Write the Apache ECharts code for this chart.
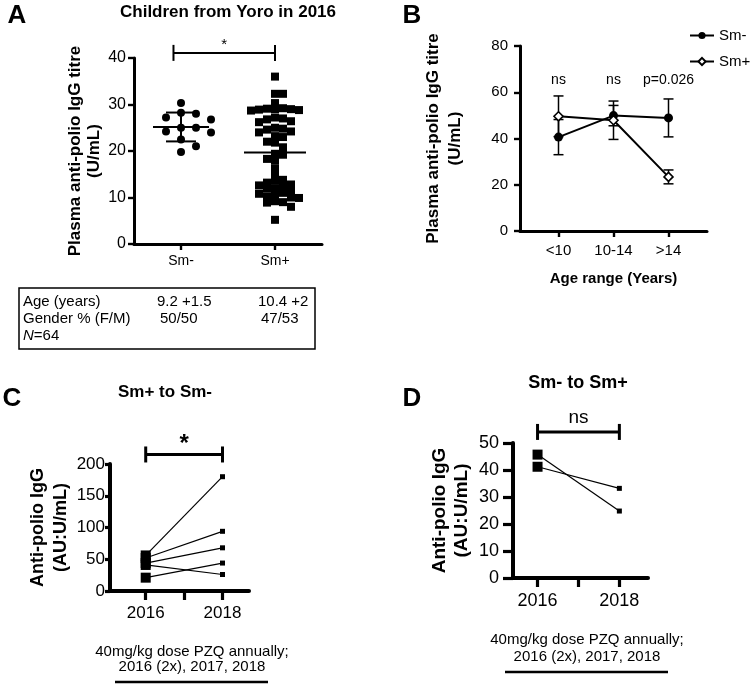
<!DOCTYPE html>
<html><head><meta charset="utf-8">
<script src="https://cdn.jsdelivr.net/npm/echarts@6/dist/echarts.min.js"></script>
<style>html,body{margin:0;padding:0;background:#fff}#c{width:750px;height:684px}</style>
</head><body><div id="c"></div>
<script>
// ===================== DATA =====================
// Panel A – Children from Yoro in 2016
const aCategories = ['Sm-', 'Sm+'];
const aSmNeg = [30.3, 28.2, 27.2, 26.8, 28.0, 25.0, 24.0, 25.0, 24.2, 22.5, 21.0, 19.8];
const aSmPos = [36, 32.3, 32.3, 30.3, 29.2, 29, 29, 28.8, 29.1, 28.9, 28.7, 27.2, 27, 26.8, 26.4, 26.2,
  25, 24.8, 24.6, 24.2, 24, 23.2, 23, 22, 21.8, 20.8, 19.4, 19.2, 18.3, 18, 16.3, 14.9, 13.8, 13.6,
  13.2, 12.8, 12.6, 12.5, 12, 11.9, 11.4, 11, 10.8, 10.7, 10.2, 10, 9.9, 9.2, 9, 8.9, 8, 5.2];
const aYTicks = [0, 10, 20, 30, 40];
const aSig = '*';
const tableRows = [
  ['Age (years)', '9.2 +1.5', '10.4 +2'],
  ['Gender % (F/M)', '50/50', '47/53']
];
const tableN = 64;

// Panel B – titre by age range
const bCategories = ['<10', '10-14', '>14'];
const bSeriesNames = ['Sm-', 'Sm+'];
const bSmNegMean = [40.6, 49.9, 48.9];
const bSmNegErr = [7.6, 4.4, 8.2];
const bSmPosMean = [49.6, 47.9, 23.4];
const bSmPosErr = [8.8, 8.3, 3.0];
const bSig = ['ns', 'ns', 'p=0.026'];
const bYTicks = [0, 20, 40, 60, 80];

// Panel C – Sm+ to Sm-
const cYears = [2016, 2017, 2018];
const cLabelYears = [2016, 2018];
const c2016 = [56, 52, 44, 41, 21];
const c2018 = [180, 94, 68, 26, 44];
const cSig = '*';
const cYTicks = [0, 50, 100, 150, 200];

// Panel D – Sm- to Sm+
const d2016 = [45.7, 41.2];
const d2018 = [24.8, 33.2];
const dSig = 'ns';
const dYTicks = [0, 10, 20, 30, 40, 50];

const noteLines = ['40mg/kg dose PZQ annually;', '2016 (2x), 2017, 2018'];

// ===================== HELPERS =====================
const FONT = '"Liberation Sans", Arial, Helvetica, sans-serif';
const fnt = (size, bold, italic) => (italic ? 'italic ' : '') + (bold ? 'bold ' : '') + size + 'px ' + FONT;
const mean = a => a.reduce((s, v) => s + v, 0) / a.length;
const sd = a => { const m = mean(a); return Math.sqrt(a.reduce((s, v) => s + (v - m) * (v - m), 0) / (a.length - 1)); };

// grid geometry
const gA = { left: 134, top: 58, width: 188, height: 186 };
const gB = { left: 520, top: 46, width: 187, height: 185 };
const gC = { left: 110, top: 464, width: 139, height: 127 };
const gD = { left: 513, top: 443, width: 135, height: 135 };
const aX = [0.5, 2.5];
const aPxX = gA.width / (aX[1] - aX[0]);
const aPxY = gA.height / (aYTicks[aYTicks.length - 1] - aYTicks[0]);

// simple beeswarm layout (pixel space) -> data coordinates
function swarm(values, center, step, minDx, minDy) {
  const order = values.map((v, i) => i).sort((a, b) => values[b] - values[a]);
  const placed = [], out = [];
  order.forEach(i => {
    const y = values[i] * aPxY;
    let off = 0;
    for (let k = 0; k < 60; k++) {
      const c = k === 0 ? 0 : (k % 2 === 1 ? 1 : -1) * Math.ceil(k / 2) * step;
      const hit = placed.some(p => Math.abs(p.x - c) < minDx && Math.abs(p.y - y) < minDy);
      if (!hit) { off = c; break; }
    }
    placed.push({ x: off, y });
    out[i] = [center + off / aPxX, values[i]];
  });
  return out;
}

function yAxisCfg(gi, ticks, o) {
  return {
    type: 'value', gridIndex: gi, min: ticks[0], max: ticks[ticks.length - 1],
    interval: ticks[1] - ticks[0],
    name: o.name, nameLocation: 'middle', nameGap: o.nameGap,
    nameTextStyle: { fontFamily: FONT, fontWeight: 'bold', fontSize: o.nameSize, lineHeight: o.nameLH, color: '#000' },
    axisLine: { show: true, lineStyle: { color: '#000', width: o.lw } },
    axisTick: { show: true, length: o.tickLen, lineStyle: { color: '#000', width: o.lw * 0.8 } },
    axisLabel: { fontFamily: FONT, fontSize: o.fs, color: '#000', margin: o.margin },
    splitLine: { show: false }
  };
}
function xAxisCfg(gi, range, tickVals, labelVals, fmt, o) {
  return {
    type: 'value', gridIndex: gi, min: range[0], max: range[1],
    name: o.name || '', nameLocation: 'middle', nameGap: o.nameGap || 0,
    nameTextStyle: { fontFamily: FONT, fontWeight: 'bold', fontSize: o.nameSize || 15, color: '#000' },
    axisLine: { show: true, onZero: false, lineStyle: { color: '#000', width: o.lw } },
    axisTick: { show: true, customValues: tickVals, length: o.tickLen, lineStyle: { color: '#000', width: o.lw * 0.8 } },
    axisLabel: { customValues: labelVals, formatter: fmt, fontFamily: FONT, fontSize: o.fs, color: '#000', margin: o.margin },
    splitLine: { show: false }
  };
}

function bracket(capHalf, lw, label, font, dy) {
  return function (params, api) {
    const y = api.value(2);
    const p1 = api.coord([api.value(0), y]);
    const p2 = api.coord([api.value(1), y]);
    const st = { stroke: '#000', lineWidth: lw };
    return {
      type: 'group', children: [
        { type: 'line', shape: { x1: p1[0], y1: p1[1], x2: p2[0], y2: p2[1] }, style: st },
        { type: 'line', shape: { x1: p1[0], y1: p1[1] - capHalf, x2: p1[0], y2: p1[1] + capHalf }, style: st },
        { type: 'line', shape: { x1: p2[0], y1: p2[1] - capHalf, x2: p2[0], y2: p2[1] + capHalf }, style: st },
        { type: 'text', style: { text: label, x: (p1[0] + p2[0]) / 2, y: p1[1] - dy, align: 'center', verticalAlign: 'bottom', font: font, fill: '#000' } }
      ]
    };
  };
}

const solid = { color: '#000', opacity: 1 };

// ===================== SERIES DATA =====================
const aNegPts = swarm(aSmNeg, 1, 7.5, 13, 8);
const aPosPts = swarm(aSmPos, 2, 8, 7.2, 5.6);
const aStats = [[1, mean(aSmNeg), sd(aSmNeg), 1], [2, mean(aSmPos), sd(aSmPos), 0]];

const series = [];
// ---- Panel A ----
series.push({
  type: 'custom', name: 'A stats', xAxisIndex: 0, yAxisIndex: 0, clip: false, z: 1,
  data: aStats,
  renderItem: function (params, api) {
    const c = api.value(0), m = api.value(1), s = api.value(2), showSd = api.value(3);
    const pm = api.coord([c, m]);
    const half = showSd ? 28 : 31;
    const ch = [{ type: 'line', shape: { x1: pm[0] - half, y1: pm[1], x2: pm[0] + half, y2: pm[1] }, style: { stroke: '#000', lineWidth: 2 } }];
    if (showSd) {
      const pt = api.coord([c, m + s]), pb = api.coord([c, m - s]);
      ch.push({ type: 'line', shape: { x1: pt[0], y1: pt[1], x2: pb[0], y2: pb[1] }, style: { stroke: '#000', lineWidth: 2 } });
      ch.push({ type: 'line', shape: { x1: pt[0] - 15, y1: pt[1], x2: pt[0] + 15, y2: pt[1] }, style: { stroke: '#000', lineWidth: 2 } });
      ch.push({ type: 'line', shape: { x1: pb[0] - 15, y1: pb[1], x2: pb[0] + 15, y2: pb[1] }, style: { stroke: '#000', lineWidth: 2 } });
    }
    return { type: 'group', children: ch };
  }
});
series.push({ type: 'scatter', name: 'A Sm-', xAxisIndex: 0, yAxisIndex: 0, data: aNegPts, symbol: 'circle', symbolSize: 8, itemStyle: solid, z: 3 });
series.push({ type: 'scatter', name: 'A Sm+', xAxisIndex: 0, yAxisIndex: 0, data: aPosPts, symbol: 'rect', symbolSize: 8, itemStyle: solid, z: 3 });
series.push({
  type: 'custom', name: 'A bracket', xAxisIndex: 0, yAxisIndex: 0, clip: false,
  data: [[0.92, 2, 41.1]], renderItem: bracket(8, 2, aSig, fnt(15, false), 1)
});

// ---- Panel B ----
function errBars(means, errs) { return means.map((m, i) => [i + 1, m, errs[i]]); }
const errRender = function (params, api) {
  const x = api.value(0), m = api.value(1), e = api.value(2);
  const pt = api.coord([x, m + e]), pb = api.coord([x, m - e]);
  const st = { stroke: '#000', lineWidth: 1.5 };
  return {
    type: 'group', children: [
      { type: 'line', shape: { x1: pt[0], y1: pt[1], x2: pb[0], y2: pb[1] }, style: st },
      { type: 'line', shape: { x1: pt[0] - 5, y1: pt[1], x2: pt[0] + 5, y2: pt[1] }, style: st },
      { type: 'line', shape: { x1: pb[0] - 5, y1: pb[1], x2: pb[0] + 5, y2: pb[1] }, style: st }
    ]
  };
};
series.push({ type: 'custom', name: 'B err -', xAxisIndex: 1, yAxisIndex: 1, z: 1, data: errBars(bSmNegMean, bSmNegErr), renderItem: errRender });
series.push({ type: 'custom', name: 'B err +', xAxisIndex: 1, yAxisIndex: 1, z: 1, data: errBars(bSmPosMean, bSmPosErr), renderItem: errRender });
series.push({
  type: 'line', name: bSeriesNames[0], xAxisIndex: 1, yAxisIndex: 1, z: 3,
  data: bSmNegMean.map((v, i) => [i + 1, v]), symbol: 'circle', symbolSize: 9,
  itemStyle: solid, lineStyle: { color: '#000', width: 2 }
});
series.push({
  type: 'line', name: bSeriesNames[1], xAxisIndex: 1, yAxisIndex: 1, z: 4,
  data: bSmPosMean.map((v, i) => [i + 1, v]), symbol: 'diamond', symbolSize: 9,
  itemStyle: { color: '#fff', borderColor: '#000', borderWidth: 1.6, opacity: 1 }, lineStyle: { color: '#000', width: 2 }
});
series.push({
  type: 'custom', name: 'B sig', xAxisIndex: 1, yAxisIndex: 1, clip: false,
  data: bSig.map((s, i) => [i + 1, 65.2]),
  renderItem: function (params, api) {
    const p = api.coord([api.value(0), api.value(1)]);
    return { type: 'text', style: { text: bSig[params.dataIndex], x: p[0], y: p[1], align: 'center', verticalAlign: 'middle', font: fnt(14, false), fill: '#000' } };
  }
});

// ---- Panel C ----
c2016.forEach((v, i) => series.push({
  type: 'line', name: 'C pair ' + i, xAxisIndex: 2, yAxisIndex: 2, symbol: 'none', z: 2,
  data: [[cLabelYears[0], v], [cLabelYears[1], c2018[i]]], lineStyle: { color: '#000', width: 1.2 }
}));
series.push({ type: 'scatter', name: 'C 2016', xAxisIndex: 2, yAxisIndex: 2, symbol: 'rect', symbolSize: 10, z: 3, itemStyle: solid, data: c2016.map(v => [cLabelYears[0], v]) });
series.push({ type: 'scatter', name: 'C 2018', xAxisIndex: 2, yAxisIndex: 2, symbol: 'rect', symbolSize: 5, z: 3, itemStyle: solid, data: c2018.map(v => [cLabelYears[1], v]) });
series.push({ type: 'custom', name: 'C bracket', xAxisIndex: 2, yAxisIndex: 2, clip: false, data: [[cLabelYears[0], cLabelYears[1], 215]], renderItem: bracket(8, 3, cSig, fnt(24, true), -2) });

// ---- Panel D ----
d2016.forEach((v, i) => series.push({
  type: 'line', name: 'D pair ' + i, xAxisIndex: 3, yAxisIndex: 3, symbol: 'none', z: 2,
  data: [[cLabelYears[0], v], [cLabelYears[1], d2018[i]]], lineStyle: { color: '#000', width: 1.2 }
}));
series.push({ type: 'scatter', name: 'D 2016', xAxisIndex: 3, yAxisIndex: 3, symbol: 'rect', symbolSize: 10, z: 3, itemStyle: solid, data: d2016.map(v => [cLabelYears[0], v]) });
series.push({ type: 'scatter', name: 'D 2018', xAxisIndex: 3, yAxisIndex: 3, symbol: 'rect', symbolSize: 5, z: 3, itemStyle: solid, data: d2018.map(v => [cLabelYears[1], v]) });
series.push({ type: 'custom', name: 'D bracket', xAxisIndex: 3, yAxisIndex: 3, clip: false, data: [[cLabelYears[0], cLabelYears[1], 54.1]], renderItem: bracket(8, 3, dSig, fnt(19, false), 5) });

// ===================== GRAPHIC (labels, table, notes) =====================
const T = (text, x, y, size, bold, align, extra) => Object.assign({
  type: 'text', x: x, y: y, silent: true,
  style: Object.assign({ text: text, font: fnt(size, bold), fill: '#000', align: align || 'center', verticalAlign: 'middle' }, extra || {})
});
const graphics = [
  T('A', 17, 16, 26, true), T('B', 412, 16, 26, true), T('C', 12, 399, 26, true), T('D', 412, 399, 26, true),
  T('Children from Yoro in 2016', 228, 12, 17, true),
  T('Sm+ to Sm-', 165, 392, 17, true),
  T('Sm- to Sm+', 578, 383, 18, true),
  { type: 'rect', shape: { x: 19, y: 288, width: 296, height: 61 }, style: { fill: 'none', stroke: '#000', lineWidth: 1.5 }, silent: true }
];
const colX = [23, 157, 258];
tableRows.forEach((row, r) => row.forEach((cell, c) => graphics.push(T(cell, colX[c] + (r === 1 && c > 0 ? 3 : 0), 302 + r * 16.5, 15, false, 'left'))));
graphics.push({ type: 'text', x: 23, y: 336, silent: true, style: { text: '{i|N}=' + tableN, font: fnt(15, false), fill: '#000', align: 'left', verticalAlign: 'middle', rich: { i: { fontStyle: 'italic', fontSize: 15, fontFamily: FONT } } } });
noteLines.forEach((t, i) => graphics.push(T(t, 192, 652 + i * 15, 15, false)));
graphics.push({ type: 'line', shape: { x1: 115, y1: 682, x2: 268, y2: 682 }, style: { stroke: '#000', lineWidth: 2.5 }, silent: true });
noteLines.forEach((t, i) => graphics.push(T(t, 587, 640 + i * 16.5, 15, false)));
graphics.push({ type: 'line', shape: { x1: 505, y1: 672, x2: 668, y2: 672 }, style: { stroke: '#000', lineWidth: 2.5 }, silent: true });

// ===================== OPTION =====================
const option = {
  animation: false,
  backgroundColor: '#fff',
  textStyle: { fontFamily: FONT },
  grid: [
    Object.assign({ containLabel: false }, gA),
    Object.assign({ containLabel: false }, gB),
    Object.assign({ containLabel: false }, gC),
    Object.assign({ containLabel: false }, gD)
  ],
  legend: {
    data: bSeriesNames, orient: 'vertical', left: 684, top: 23, itemWidth: 24, itemHeight: 9, itemGap: 11,
    selectedMode: false, textStyle: { fontFamily: FONT, fontSize: 15, color: '#000' }
  },
  xAxis: [
    xAxisCfg(0, aX, [1, 2], [1, 2], v => aCategories[Math.round(v) - 1], { lw: 3, tickLen: 6, fs: 14, margin: 10 }),
    xAxisCfg(1, [0.3, 3.7], [1, 2, 3], [1, 2, 3], v => bCategories[Math.round(v) - 1], { lw: 3, tickLen: 6, fs: 15, margin: 12, name: 'Age range (Years)', nameGap: 40, nameSize: 15 }),
    xAxisCfg(2, [2015.07, 2018.69], cYears, cLabelYears, v => String(v), { lw: 4, tickLen: 9, fs: 17, margin: 14 }),
    xAxisCfg(3, [2015.4, 2018.7], cYears, cLabelYears, v => String(v), { lw: 4, tickLen: 9, fs: 18, margin: 14 })
  ],
  yAxis: [
    yAxisCfg(0, aYTicks, { name: 'Plasma anti-polio IgG titre\n(U/mL)', nameGap: 27, nameSize: 17, nameLH: 19, lw: 3, tickLen: 6, fs: 16, margin: 8 }),
    yAxisCfg(1, bYTicks, { name: 'Plasma anti-polio IgG titre\n(U/mL)', nameGap: 54, nameSize: 17, nameLH: 22, lw: 3, tickLen: 6, fs: 15, margin: 12 }),
    yAxisCfg(2, cYTicks, { name: 'Anti-polio IgG\n(AU:U/mL)', nameGap: 36, nameSize: 18, nameLH: 23, lw: 4, tickLen: 5, fs: 17, margin: 5 }),
    yAxisCfg(3, dYTicks, { name: 'Anti-polio IgG\n(AU:U/mL)', nameGap: 40, nameSize: 19, nameLH: 22, lw: 4, tickLen: 10, fs: 18, margin: 14 })
  ],
  series: series,
  graphic: graphics
};

const chart = echarts.init(document.getElementById('c'));
chart.setOption(option);
</script>
</body></html>
